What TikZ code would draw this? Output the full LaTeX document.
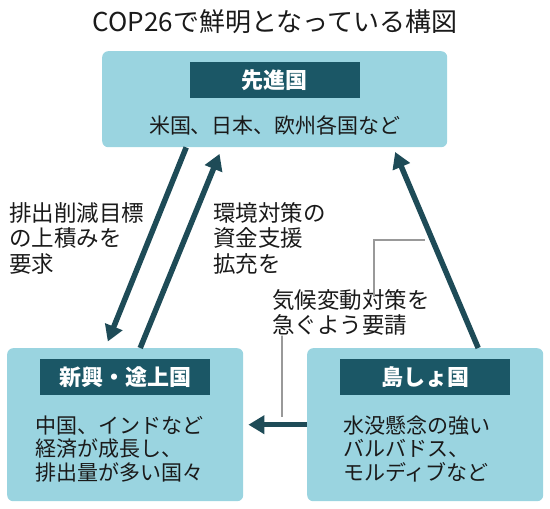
\documentclass[tikz,border=0pt]{standalone}
\usepackage{fontspec}
\setmainfont{Noto Sans CJK JP}
\usetikzlibrary{positioning,calc,arrows.meta}
\definecolor{boxfill}{HTML}{9AD4E0}
\definecolor{headfill}{HTML}{1B5766}
\definecolor{flowcol}{HTML}{1E4B57}
\definecolor{inkcol}{HTML}{1A1A1A}
\begin{document}
\begin{tikzpicture}[
  x=1pt,y=-1pt,
  every node/.style={inner sep=0pt,text=inkcol},
  box/.style={fill=boxfill,rounded corners=6pt,anchor=north west},
  head/.style={fill=headfill,text=white,minimum width=170pt,minimum height=36pt,
    font=\fontsize{22}{24}\selectfont\bfseries},
  body/.style={align=left,font=\fontsize{21}{23.5}\selectfont},
  note/.style={align=left,anchor=north west,font=\fontsize{22.5}{25.5}\selectfont},
  flow/.style={draw=flowcol,line width=5.5pt,-{Triangle[length=16pt,width=18pt]}},
  lead/.style={draw=gray!80,line width=1.1pt},
  ]
  \useasboundingbox (0,0) rectangle (550,509);
  \node[font=\fontsize{26}{28}\selectfont] (title) at (275,22) {COP26で鮮明となっている構図};
  \node[box,minimum width=345pt,minimum height=96pt] (boxAdv) at (102,51) {};
  \node[head,below=11pt of boxAdv.north] (headAdv) {先進国};
  \node[body,anchor=center] (textAdv) at (275,125) {米国、日本、欧州各国など};
  \node[box,minimum width=236pt,minimum height=153pt] (boxDev) at (7,348) {};
  \node[head,below=11pt of boxDev.north] (headDev) {新興・途上国};
  \node[body,anchor=north west] (textDev) at (35,415.5) {中国、インドなど\\経済が成長し、\\排出量が多い国々};
  \node[box,minimum width=236pt,minimum height=153pt] (boxIsl) at (307,348) {};
  \node[head,below=11pt of boxIsl.north] (headIsl) {島しょ国};
  \node[body,anchor=north west] (textIsl) at (343,415.5) {水没懸念の強い\\バルバドス、\\モルディブなど};
  \node[note] (noteCut) at (9,202) {排出削減目標\\の上積みを\\要求};
  \node[note] (noteFund) at (213,202) {環境対策の\\資金支援\\拡充を};
  \node[note] (noteReq) at (272,289) {気候変動対策を\\急ぐよう要請};
  \draw[flow,shorten >=7pt] ([xshift=-88.5pt]boxAdv.south) -- ([xshift=-20pt]boxDev.north);
  \draw[flow,shorten >=7pt] ([xshift=15pt]boxDev.north) -- ([xshift=-52.5pt]boxAdv.south);
  \draw[flow,shorten >=5pt] ([xshift=53pt]boxIsl.north) -- ([xshift=118.5pt]boxAdv.south);
  \draw[flow,shorten >=5pt] (boxIsl.west) -- (boxDev.east);
  \coordinate (leadLow) at (282,417);
  \coordinate (leadHigh) at (425,240);
  \path[lead] ([xshift=10pt,yshift=-2pt]noteReq.south west) -- (noteReq.south west -| leadLow) -- (leadLow);
  \path[lead] ([yshift=-8pt]noteReq.north west -| 374,0) -- (374,240) -- (leadHigh);
\end{tikzpicture}
\end{document}
